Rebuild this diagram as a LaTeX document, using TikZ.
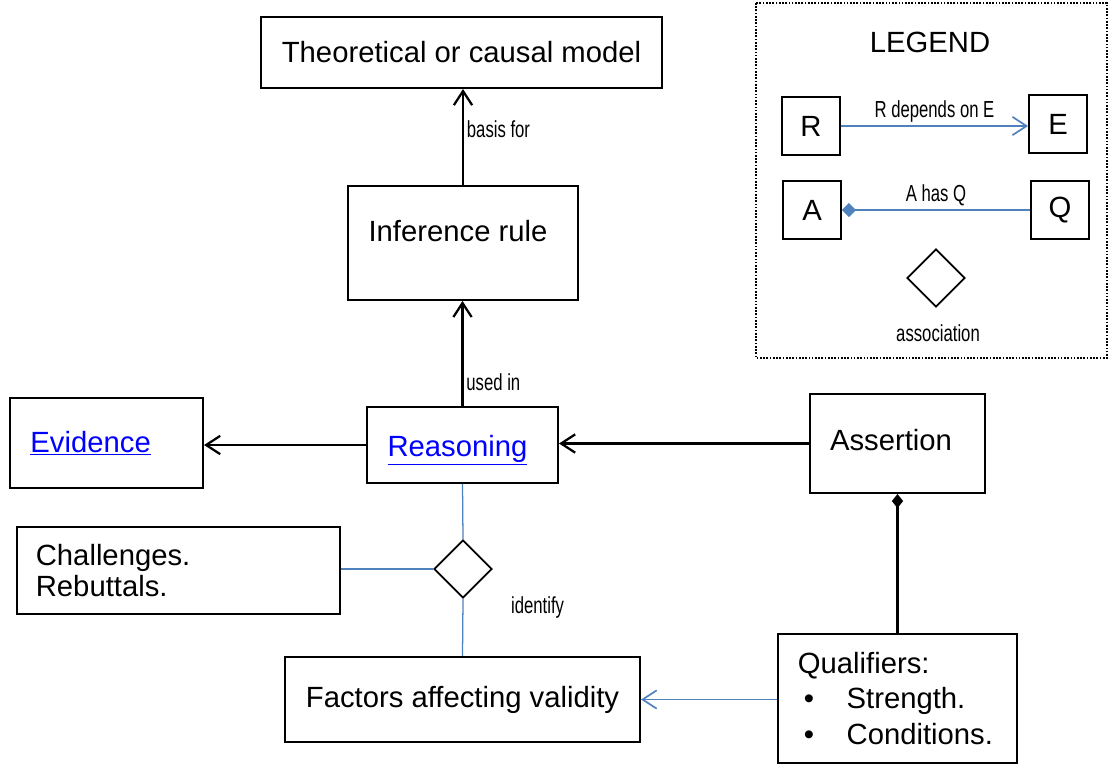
\documentclass[tikz,border=0pt]{standalone}
\usepackage{fontspec}
\setmainfont{Liberation Sans}
\newfontfamily\narrowfont[FakeStretch=0.72]{Liberation Sans}
\usepackage{tikz}
\usetikzlibrary{arrows,arrows.meta,shapes,positioning}
\usepackage{xcolor}
\definecolor{linkblue}{RGB}{0,0,255}
\definecolor{lineblue}{RGB}{79,129,189}
\newcommand{\lnk}[1]{\textcolor{linkblue}{\underline{#1}}}
\tikzstyle{box} = [draw, line width=1.3pt, inner sep=0pt, font=\fontsize{20.8}{25}\selectfont]
\tikzstyle{txt} = [font=\fontsize{20.8}{25}\selectfont, inner sep=0pt]
\tikzstyle{lbl} = [font=\narrowfont\fontsize{16.5}{19}\selectfont, inner sep=2pt]
\tikzstyle{arrow} = [line width=1.6pt, -{Straight Barb[length=10pt,width=13pt]}]
\tikzstyle{bluearrow} = [line width=1.2pt, color=lineblue, -{Straight Barb[length=10pt,width=13pt]}]
\tikzstyle{blueline} = [line width=0.9pt, color=lineblue]
\tikzstyle{assoc} = [draw, diamond, line width=1.3pt, minimum width=1.45cm, minimum height=1.45cm, inner sep=0pt]

\begin{document}
\begin{tikzpicture}[x=0.025cm, y=-0.025cm]
\useasboundingbox (0,0) rectangle (1109,764);

% Main chain
\node[box, minimum width=10.03cm, minimum height=1.78cm] (theory) at (461.5,52.5) {Theoretical or causal model};
\node[box, minimum width=5.75cm, minimum height=2.85cm] (rule) at (463,243) {};
\node[txt] (ruletext) at (458,231) {Inference rule};
\node[box, minimum width=4.78cm, minimum height=1.9cm] (reason) at (462.5,445) {};
\node[txt] (reasontext) at (457.5,450) {\lnk{Reasoning}};
\node[box, minimum width=4.83cm, minimum height=2.25cm, align=left, text width=3.8cm] (evid) at (106.5,443) {\lnk{Evidence}};
\node[box, minimum width=4.38cm, minimum height=2.48cm] (assert) at (897.5,443.5) {};
\node[txt] (asserttext) at (891,440) {Assertion};

% Validity
\node[assoc] (diam) at (463,569) {};
\node[box, minimum width=8.08cm, minimum height=2.18cm, align=left, text width=7.13cm,
      font=\fontsize{20.8}{22.7}\selectfont] (chal) at (178.5,570.5) {Challenges.\\Rebuttals.};
\node[box, minimum width=8.88cm, minimum height=2.13cm] (factors) at (462.5,699.5) {Factors affecting validity};
\node[box, minimum width=5.98cm, minimum height=3.23cm, align=left, text width=4.98cm,
      font=\fontsize{20.8}{25.5}\selectfont] (qual) at (897.5,698.5)
      {Qualifiers:\\\hspace*{0.15cm}\makebox[1.07cm][l]{\textbullet}Strength.\\\hspace*{0.15cm}\makebox[1.07cm][l]{\textbullet}Conditions.};
\node[lbl, anchor=west] (ident) at (508,607) {identify};

% Connectors
\draw[arrow] (rule.north) -- node[lbl, right, pos=0.58] {basis for} (rule.north |- theory.south);
\draw[arrow] (reason.north) -- node[lbl, right, pos=0.23] {used in} (reason.north |- rule.south);
\draw[arrow] (reason.west) -- (reason.west -| evid.east);
\draw[arrow] (assert.west) -- (reason.east |- assert.west);
\draw[line width=1.6pt, {Diamond[length=10pt,width=8pt]}-] (assert.south) -- (qual.north);
\draw[bluearrow] (qual.west |- factors.east) -- (factors.east);
\draw[blueline] (reason.south) -- (diam.north);
\draw[blueline] (diam.south) -- (factors.north);
\draw[blueline] (diam.west) -- (diam.west -| chal.east);

% Legend
\draw[line width=1.3pt, dash pattern=on 1.2pt off 1.1pt] (756,3) rectangle (1107,358);
\node[txt] (legtitle) at (930,42) {LEGEND};
\node[box, minimum width=1.45cm, minimum height=1.45cm] (R) at (811,126) {R};
\node[box, minimum width=1.45cm, minimum height=1.45cm] (E) at (1058,124) {E};
\node[box, minimum width=1.45cm, minimum height=1.45cm] (A) at (812,210) {A};
\node[box, minimum width=1.45cm, minimum height=1.45cm] (Q) at (1060,210) {Q};
\node[assoc] (ldiam) at (936,278) {};
\node[lbl] (assoclbl) at (938,333) {association};
\draw[bluearrow] (R.east) -- node[lbl, above, color=black] {R depends on E} (R.east -| E.west);
\draw[blueline, line width=1.2pt, {Diamond[length=10pt,width=10pt]}-] (A.east) -- node[lbl, above, color=black] {A has Q} (Q.west);
\end{tikzpicture}
\end{document}
